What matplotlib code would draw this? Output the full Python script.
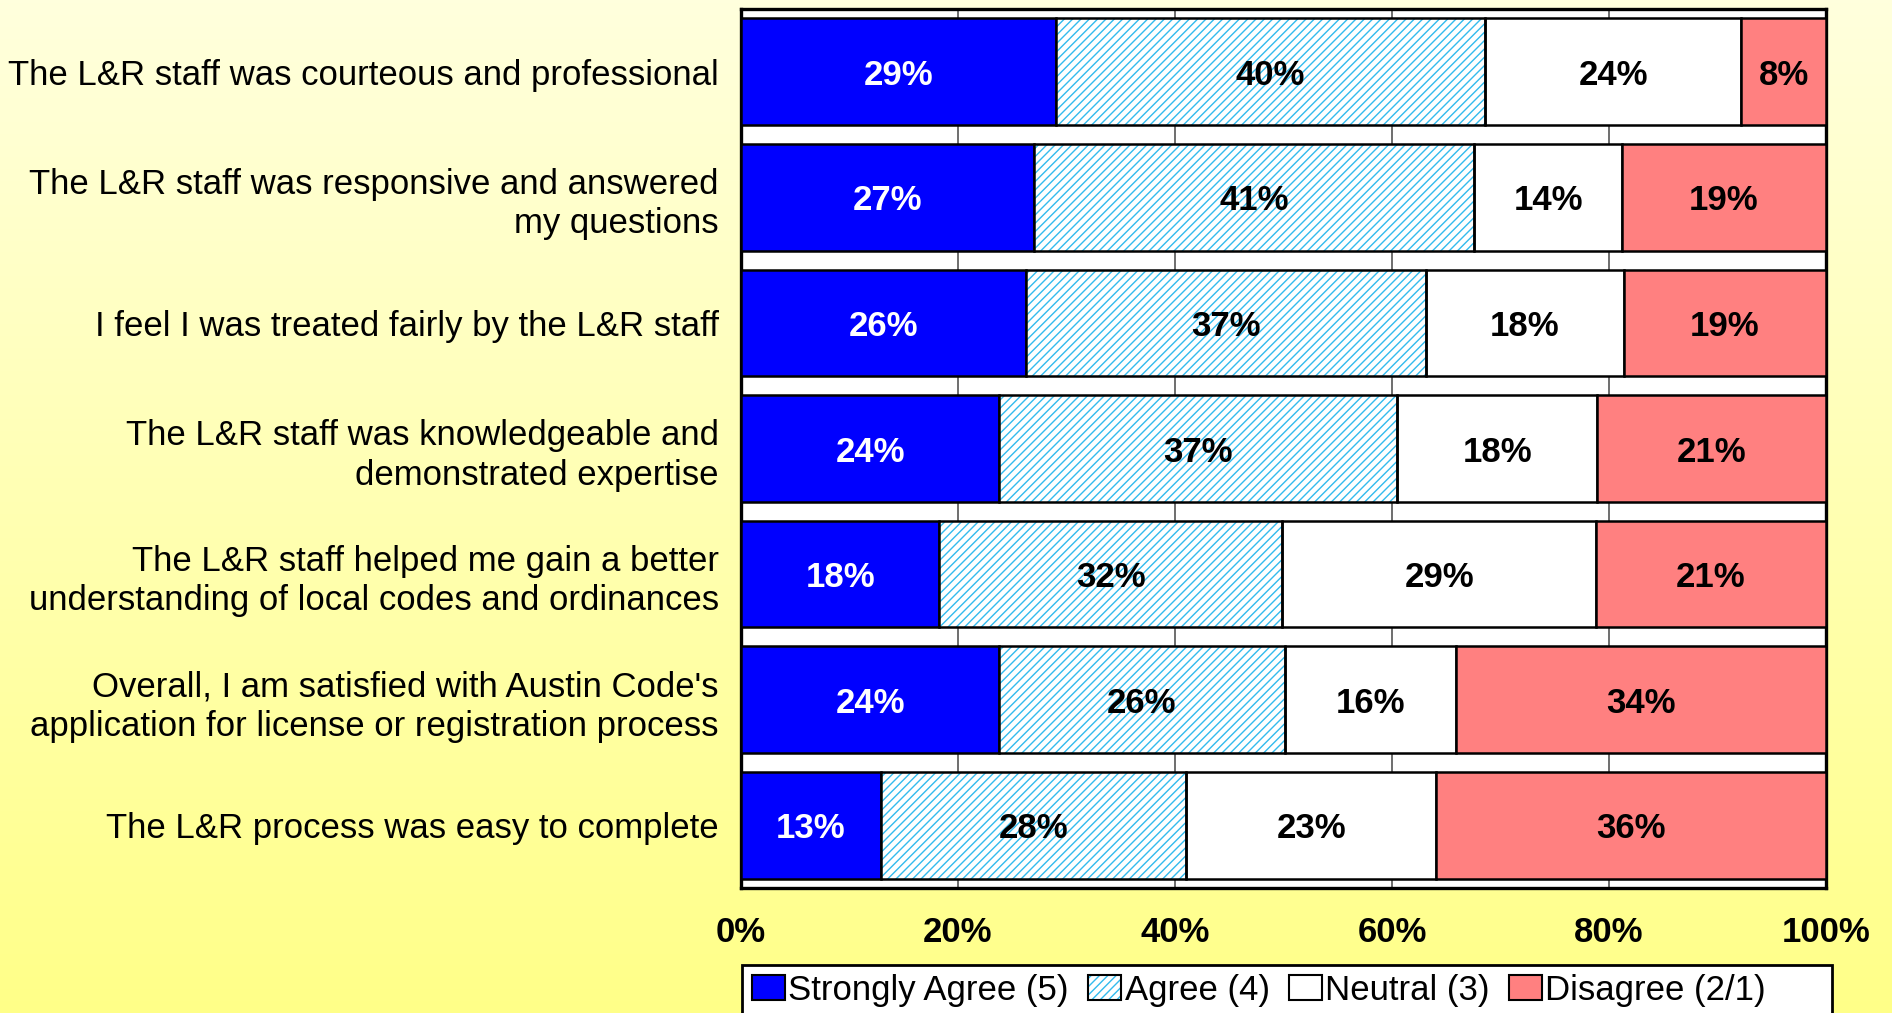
import matplotlib.pyplot as plt
import numpy as np
from matplotlib.patches import Patch, Rectangle
from matplotlib.colors import LinearSegmentedColormap

plt.rcParams['font.family'] = ['Liberation Sans', 'DejaVu Sans']
plt.rcParams['hatch.linewidth'] = 1.0

# Datos (porcentajes)
questions = [
    "The L&R staff was courteous and professional",
    "The L&R staff was responsive and answered\nmy questions",
    "I feel I was treated fairly by the L&R staff",
    "The L&R staff was knowledgeable and\ndemonstrated expertise",
    "The L&R staff helped me gain a better\nunderstanding of local codes and ordinances",
    "Overall, I am satisfied with Austin Code's\napplication for license or registration process",
    "The L&R process was easy to complete",
]
strongly_agree = [29.0, 27.0, 26.3, 23.8, 18.3, 23.8, 12.9]
agree = [39.6, 40.6, 36.8, 36.7, 31.6, 26.3, 28.1]
neutral = [23.6, 13.6, 18.3, 18.4, 28.9, 15.8, 23.1]
disagree = [7.8, 18.8, 18.6, 21.1, 21.2, 34.1, 35.9]
series_names = ["Strongly Agree (5)", "Agree (4)", "Neutral (3)", "Disagree (2/1)"]

blue = '#0000FF'
hatch_blue = '#33BBEE'
red = '#FF8080'

fig = plt.figure(figsize=(18.92, 10.13), dpi=100)

# Fondo degradado amarillo
bg = fig.add_axes([0, 0, 1, 1], zorder=-10)
cmap = LinearSegmentedColormap.from_list('yel', ['#FFFFDD', '#FFFF88'])
bg.imshow(np.linspace(0, 1, 256).reshape(-1, 1), aspect='auto', cmap=cmap,
          extent=[0, 1, 0, 1])
bg.axis('off')

ax = fig.add_axes([0.3916, 0.1234, 0.5735, 0.8677])
ax.set_facecolor('white')

y = np.arange(len(questions))
h = 0.85
ew = 1.8

sa = np.array(strongly_agree)
ag = np.array(agree)
ne = np.array(neutral)
di = np.array(disagree)

ax.barh(y, sa, height=h, color=blue, edgecolor='black', linewidth=ew, zorder=3)
# Agree: rayado azul con borde negro
ax.barh(y, ag, left=sa, height=h, color='white', edgecolor=hatch_blue,
        hatch='////', linewidth=0, zorder=3)
ax.barh(y, ag, left=sa, height=h, fill=False, edgecolor='black',
        linewidth=ew, zorder=4)
ax.barh(y, ne, left=sa + ag, height=h, color='white', edgecolor='black',
        linewidth=ew, zorder=3)
ax.barh(y, di, left=sa + ag + ne, height=h, color=red, edgecolor='black',
        linewidth=ew, zorder=3)

# Etiquetas de porcentaje
lefts = [np.zeros(len(y)), sa, sa + ag, sa + ag + ne]
for vals, left, col in zip([sa, ag, ne, di], lefts,
                           ['white', 'black', 'black', 'black']):
    for i in range(len(y)):
        ax.text(left[i] + vals[i] / 2, y[i], f"{round(vals[i]):.0f}%",
                ha='center', va='center_baseline', color=col, fontsize=25,
                fontweight='bold', zorder=5)

ax.set_xlim(0, 100)
ax.set_ylim(len(y) - 0.5, -0.5)
ax.set_yticks(y)
ax.set_yticklabels(questions, fontsize=25, linespacing=1.25)
ax.set_xticks([0, 20, 40, 60, 80, 100])
ax.set_xticklabels(['0%', '20%', '40%', '60%', '80%', '100%'],
                   fontsize=25, fontweight='bold')
ax.tick_params(axis='x', length=0, pad=20)
ax.tick_params(axis='y', length=0, pad=16)
ax.xaxis.grid(True, color='#555555', linewidth=1.2, zorder=0)
ax.set_axisbelow(True)
for s in ax.spines.values():
    s.set_linewidth(2.4)
    s.set_color('black')

# Leyenda (marco dibujado aparte, sale por abajo de la figura)
frame = Rectangle((742 / 1892, -0.05), (1832 - 742) / 1892,
                  (1013 - 965) / 1013 + 0.05, transform=fig.transFigure,
                  facecolor='white', edgecolor='black', linewidth=2, zorder=2)
fig.add_artist(frame)

handles = [
    Patch(facecolor=blue, edgecolor='black', linewidth=1.5),
    (Patch(facecolor='white', edgecolor=hatch_blue, hatch='////', linewidth=0),
     Patch(fill=False, edgecolor='black', linewidth=1.5)),
    Patch(facecolor='white', edgecolor='black', linewidth=1.5),
    Patch(facecolor=red, edgecolor='black', linewidth=1.5),
]
leg = fig.legend(handles, series_names, loc='center left',
                 bbox_to_anchor=(752 / 1892, 1 - 990 / 1013), ncol=4,
                 fontsize=25, frameon=False, handlelength=0.95,
                 handleheight=0.7, handletextpad=0.1, columnspacing=0.55,
                 borderpad=0, borderaxespad=0)
leg.set_zorder(3)

plt.savefig('out.png', dpi=100)
